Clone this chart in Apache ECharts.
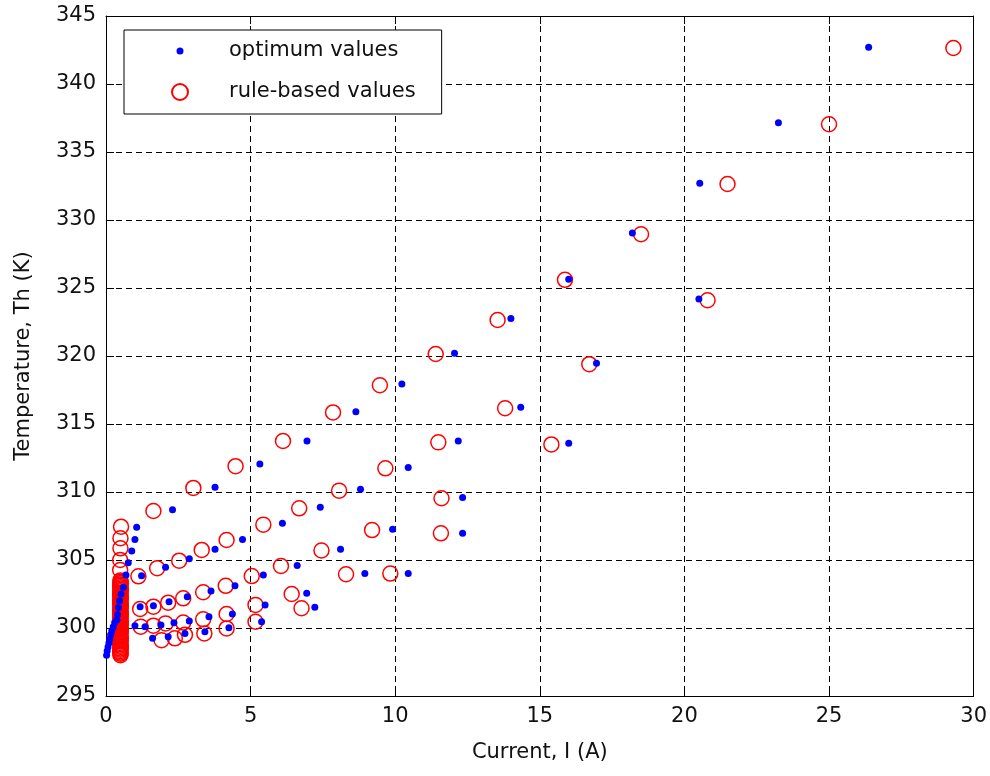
<!DOCTYPE html>
<html>
<head>
<meta charset="utf-8">
<script src="https://cdn.jsdelivr.net/npm/echarts@6/dist/echarts.min.js"></script>
<style>
html,body{margin:0;padding:0;background:#fff;}
#chart{width:990px;height:776px;}
</style>
</head>
<body>
<div id="chart"></div>
<script>
// optimum values (blue dots)
const optimumCurrent = [
  1.06, 2.30, 3.77, 5.32, 6.95, 8.64, 10.23, 12.05, 14.00, 16.00, 18.20, 20.53, 23.25, 26.37,
  1.23, 2.06, 2.88, 3.77, 4.72, 6.10, 7.41, 8.80, 10.45, 12.18, 14.34, 16.96, 20.50,
  16.00, 12.33, 12.33, 9.91, 10.45, 8.95, 8.11, 6.61, 5.44, 6.94, 7.22, 5.50, 5.38,
  1.18, 1.64, 2.18, 2.81, 3.63, 4.46,
  1.00, 1.35, 1.90, 2.35, 2.88, 3.56, 4.37,
  1.61, 2.15, 2.73, 3.42, 4.25,
  1.00, 0.89, 0.77, 0.69, 0.60, 0.52, 0.47, 0.43, 0.40, 0.38,
  0.02, 0.04, 0.07, 0.10, 0.13, 0.16, 0.20, 0.25, 0.30
]
const optimumTemp = [
  307.4, 308.7, 310.35, 312.06, 313.75, 315.9, 317.94, 320.2, 322.75, 325.65, 329.05, 332.7, 337.15, 342.7,
  303.85, 304.46, 305.1, 305.79, 306.5, 307.7, 308.87, 310.2, 311.8, 313.75, 316.23, 319.46, 324.2,
  313.58, 309.6, 306.96, 307.26, 304.0, 304.0, 305.79, 304.6, 303.9, 302.55, 301.52, 301.7, 300.46,
  301.57, 301.64, 301.93, 302.3, 302.72, 303.11,
  300.17, 300.1, 300.22, 300.39, 300.51, 300.83, 301.03,
  299.24, 299.36, 299.6, 299.73, 300.02,
  306.5, 305.66, 304.8, 303.9, 303.0, 302.5, 302.0, 301.5, 301.0, 300.6,
  298.0, 298.3, 298.6, 298.9, 299.2, 299.5, 299.8, 300.1, 300.4
]

// rule-based values (red circles)
const ruleCurrent = [
  1.64, 3.02, 4.48, 6.12, 7.85, 9.47, 11.40, 13.54, 15.87, 18.50, 21.49, 25.00, 29.30,
  1.12, 1.77, 2.53, 3.31, 4.17, 5.44, 6.68, 8.06, 9.66, 11.49, 13.80, 16.71, 20.80,
  15.40, 11.60, 11.58, 9.20, 9.83, 8.30, 7.45, 6.05, 5.04, 6.42, 6.76, 5.17, 5.17,
  1.18, 1.64, 2.15, 2.67, 3.36, 4.14,
  1.20, 1.64, 2.06, 2.67, 3.36, 4.17,
  1.92, 2.38, 2.73, 3.40, 4.17,
  0.52, 0.50, 0.50, 0.49, 0.49
]
const ruleTemp = [
  308.6, 310.3, 311.9, 313.75, 315.85, 317.85, 320.15, 322.65, 325.6, 328.95, 332.65, 337.04, 342.65,
  303.8, 304.4, 304.95, 305.74, 306.47, 307.6, 308.8, 310.1, 311.74, 313.65, 316.16, 319.4, 324.1,
  313.5, 309.54, 306.96, 307.2, 304.0, 303.95, 305.7, 304.56, 303.82, 302.5, 301.45, 301.7, 300.46,
  301.4, 301.57, 301.86, 302.18, 302.63, 303.1,
  300.1, 300.17, 300.34, 300.4, 300.64, 301.03,
  299.1, 299.24, 299.5, 299.6, 299.97,
  307.45, 306.6, 305.86, 305.0, 304.26
]

// the packed column of rule-based values near I = 0.5 A
const ruleColumnCurrent = [
  0.50, 0.50, 0.51, 0.50, 0.49, 0.50, 0.50, 0.51, 0.50, 0.50, 0.49, 0.50, 0.50, 0.51,
  0.50, 0.50, 0.49, 0.50, 0.50, 0.51, 0.50, 0.50, 0.49, 0.50, 0.50, 0.51, 0.50, 0.50,
  0.49, 0.50, 0.50, 0.51, 0.50, 0.50, 0.49, 0.50, 0.50, 0.51, 0.50, 0.50, 0.49, 0.50,
  0.50, 0.51, 0.50, 0.50, 0.49, 0.50, 0.50, 0.51, 0.50, 0.50, 0.49, 0.50, 0.50, 0.50
]
const ruleColumnTemp = [
  303.5, 303.4, 303.3, 303.2, 303.1, 303.0, 302.9, 302.8, 302.7, 302.6, 302.5, 302.4, 302.3, 302.2,
  302.1, 302.0, 301.9, 301.8, 301.7, 301.6, 301.5, 301.4, 301.3, 301.2, 301.1, 301.0, 300.9, 300.8,
  300.7, 300.6, 300.5, 300.4, 300.3, 300.2, 300.1, 300.0, 299.9, 299.8, 299.7, 299.6, 299.5, 299.4,
  299.3, 299.2, 299.1, 299.0, 298.9, 298.8, 298.7, 298.6, 298.5, 298.4, 298.3, 298.2, 298.1, 298.0
]

const xTicks = {min:0, max:30, interval:5}
const yTicks = {min:295, max:345, interval:5}

const font = 'DejaVu Sans'
const txt = '#111'

function zip(xs, ys){
  return xs.map((x,i)=>[x, ys[i]])
}

function valueAxis(range, opts){
  return Object.assign({
    type:'value',
    min:range.min,
    max:range.max,
    interval:range.interval,
    axisLine:{show:true, onZero:false, lineStyle:{color:'#000', width:1}},
    axisTick:{show:true, inside:true, length:8, lineStyle:{color:'#000'}},
    axisLabel:{show:true, margin:10, fontFamily:font, fontSize:21, color:txt},
    splitLine:{show:false},
    nameTextStyle:{fontFamily:font, fontSize:21, color:txt},
  }, opts)
}

const dotIcon = 'path://M0 0M16 16M11.5 8A3.5 3.5 0 1 1 4.5 8A3.5 3.5 0 1 1 11.5 8Z'

let option = {
  animation:false,
  backgroundColor:'#fff',
  grid:{left:106, right:16, top:16, bottom:80, show:false},
  legend:{
    orient:'vertical',
    left:124,
    top:30,
    padding:[9,26,10,47],
    itemWidth:30,
    itemHeight:16,
    itemGap:17,
    borderColor:'#000',
    borderWidth:1,
    backgroundColor:'#fff',
    textStyle:{fontFamily:font, fontSize:21, color:txt, lineHeight:24, padding:[0,0,0,29]},
    data:[
      {name:'optimum values', icon:dotIcon, itemStyle:{color:'#0000ff', borderWidth:0}},
      {name:'rule-based values'}
    ]
  },
  xAxis:[
    valueAxis(xTicks, {
      position:'bottom',
      name:'Current, I (A)',
      nameLocation:'middle',
      nameGap:46,
      splitLine:{show:true, lineStyle:{type:[6,4], color:'#000', width:1}}
    }),
    valueAxis(xTicks, {position:'top', axisLabel:{show:false}})
  ],
  yAxis:[
    valueAxis(yTicks, {
      position:'left',
      name:'Temperature, Th (K)',
      nameLocation:'middle',
      nameGap:72,
      splitLine:{show:true, lineStyle:{type:[6,4], color:'#000', width:1}}
    }),
    valueAxis(yTicks, {position:'right', axisLabel:{show:false}})
  ],
  series:[
    {
      name:'rule-based values',
      type:'scatter',
      symbol:'circle',
      symbolSize:15,
      itemStyle:{color:'rgba(255,255,255,0)', borderColor:'#ff0000', borderWidth:1.5, opacity:1},
      data:zip(ruleCurrent, ruleTemp).concat(zip(ruleColumnCurrent, ruleColumnTemp))
    },
    {
      name:'optimum values',
      type:'scatter',
      symbol:'circle',
      symbolSize:7,
      itemStyle:{color:'#0000ff', opacity:1},
      data:zip(optimumCurrent, optimumTemp)
    }
  ]
}

let chart = echarts.init(document.getElementById('chart'))
chart.setOption(option)
</script>
</body>
</html>
